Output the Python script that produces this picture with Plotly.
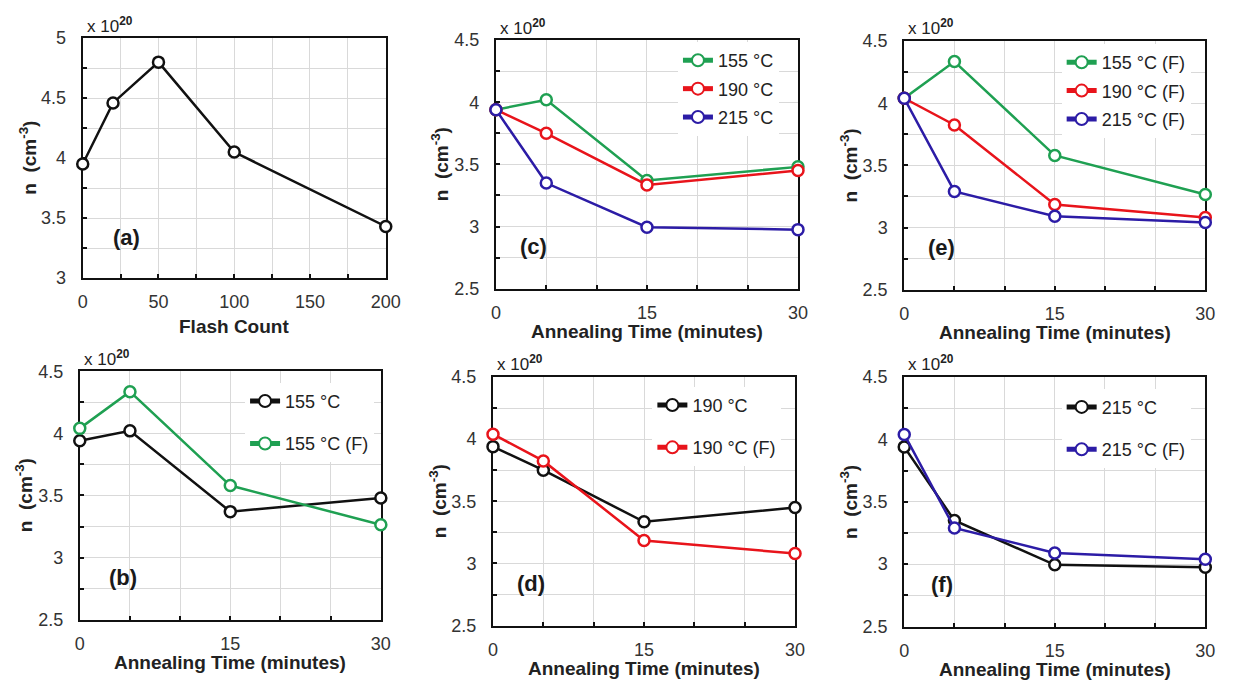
import plotly.graph_objects as go

# ---------------- data ----------------
flash_count = [0, 20, 50, 100, 200]
n_flash = [3.95, 4.46, 4.80, 4.05, 3.43]

anneal_time = [0, 5, 15, 30]
n_155 = [3.94, 4.02, 3.37, 3.48]
n_190 = [3.94, 3.75, 3.335, 3.45]
n_215 = [3.94, 3.35, 2.995, 2.975]
n_155F = [4.04, 4.335, 3.58, 3.265]
n_190F = [4.04, 3.825, 3.185, 3.08]
n_215F = [4.04, 3.29, 3.09, 3.04]

label_155 = "155 °C"
label_190 = "190 °C"
label_215 = "215 °C"
label_155F = "155 °C (F)"
label_190F = "190 °C (F)"
label_215F = "215 °C (F)"

flash_ticks = [0, 50, 100, 150, 200]
anneal_ticks = [0, 15, 30]
panel_labels = ["(a)", "(b)", "(c)", "(d)", "(e)", "(f)"]
y_title = "n  (cm<sup>-3</sup>)"
x_title_flash = "Flash Count"
x_title_anneal = "Annealing Time (minutes)"
exp_text = "x 10<sup><b>20</b></sup>"

# ---------------- style ----------------
W, H = 1239, 689
FONT = "Arial, Liberation Sans, sans-serif"
GREEN = "#1FA052"
RED = "#E8141B"
BLUE = "#2C1CA6"
BLACK = "#111111"
GRID = "#D9D9D9"

fig = go.Figure()

# panel plot areas in pixels: left, right, top, bottom
panels = {
    "a": (79, 387, 29, 276),
    "c": (499, 806, 31, 287),
    "e": (914, 1220, 32, 288),
    "b": (76, 382, 372, 628),
    "d": (496, 803, 378, 634),
    "f": (914, 1220, 378, 635),
}
order = ["a", "b", "c", "d", "e", "f"]


def px_x(v):
    return v / W


def px_y(v):
    return 1 - v / H


def add(x, y, name, color, idx, legend):
    fig.add_trace(go.Scatter(
        x=x, y=y, name=name, mode="lines+markers",
        line=dict(color=color, width=2.5),
        marker=dict(symbol="circle", size=11, color="white",
                    line=dict(color=color, width=2.5)),
        xaxis="x" + ("" if idx == 1 else str(idx)),
        yaxis="y" + ("" if idx == 1 else str(idx)),
        legend=legend, legendgroup=legend + name,
        showlegend=True,
        cliponaxis=False,
    ))


# (a)
fig.add_trace(go.Scatter(
    x=flash_count, y=n_flash, mode="lines+markers", showlegend=False,
    line=dict(color=BLACK, width=2.5),
    marker=dict(symbol="circle", size=11, color="white", line=dict(color=BLACK, width=2.5)),
    xaxis="x", yaxis="y", cliponaxis=False))

# (b) idx 2
add(anneal_time, n_155, label_155, BLACK, 2, "legend")
add(anneal_time, n_155F, label_155F, GREEN, 2, "legend")
# (c) idx 3
add(anneal_time, n_155, label_155, GREEN, 3, "legend2")
add(anneal_time, n_190, label_190, RED, 3, "legend2")
add(anneal_time, n_215, label_215, BLUE, 3, "legend2")
# (d) idx 4
add(anneal_time, n_190, label_190, BLACK, 4, "legend3")
add(anneal_time, n_190F, label_190F, RED, 4, "legend3")
# (e) idx 5
add(anneal_time, n_155F, label_155F, GREEN, 5, "legend4")
add(anneal_time, n_190F, label_190F, RED, 5, "legend4")
add(anneal_time, n_215F, label_215F, BLUE, 5, "legend4")
# (f) idx 6
add(anneal_time, n_215, label_215, BLACK, 6, "legend5")
add(anneal_time, n_215F, label_215F, BLUE, 6, "legend5")

layout = dict(
    width=W, height=H, margin=dict(l=0, r=0, t=0, b=0),
    paper_bgcolor="white", plot_bgcolor="white",
    font=dict(family=FONT, size=18, color="#333333"),
)

annotations = []
for i, key in enumerate(order, start=1):
    l, r, t, b = panels[key]
    sfx = "" if i == 1 else str(i)
    is_flash = key == "a"
    common = dict(
        showline=True, linecolor=BLACK, linewidth=2, mirror=True,
        ticks="inside", ticklen=4, tickwidth=1.5, tickcolor=BLACK,
        showgrid=True, gridcolor=GRID, gridwidth=1, zeroline=False,
        layer="below traces", tickfont=dict(size=18, color="#333333"),
    )
    xa = dict(common, domain=[px_x(l), px_x(r)], anchor="y" + sfx,
              ticklabelstandoff=6 if is_flash else 7)
    if is_flash:
        xa.update(range=[0, 200], tickvals=flash_ticks,
                  minor=dict(dtick=25, ticks="inside", ticklen=4, tickcolor=BLACK,
                             showgrid=True, gridcolor=GRID))
    else:
        xa.update(range=[0, 30], tickvals=anneal_ticks,
                  minor=dict(dtick=5, ticks="inside", ticklen=4, tickcolor=BLACK,
                             showgrid=True, gridcolor=GRID))
    ya = dict(common, domain=[px_y(b), px_y(t)], anchor="x" + sfx,
              dtick=0.5, tick0=0, ticklabelstandoff=11,
              minor=dict(dtick=0.25, ticks="inside", ticklen=4, tickcolor=BLACK,
                         showgrid=True, gridcolor=GRID))
    ya["range"] = [3, 5] if is_flash else [2.5, 4.5]
    layout["xaxis" + sfx] = xa
    layout["yaxis" + sfx] = ya

    # exponent label
    annotations.append(dict(
        text=exp_text, x=px_x(l + 2), y=px_y(t - 14), xref="paper", yref="paper",
        xanchor="left", yanchor="middle", showarrow=False,
        font=dict(size=17, color="#222222")))
    # panel label
    annotations.append(dict(
        text="<b>" + panel_labels[i - 1] + "</b>", xref="x" + sfx + " domain",
        yref="y" + sfx + " domain", x=0.145 if key in ("a", "b") else 0.125,
        y=0.17, xanchor="center", yanchor="middle", showarrow=False,
        font=dict(size=22, color="#1a1a1a")))
    # y title
    annotations.append(dict(
        text="<b>" + y_title + "</b>", textangle=-90, xref="paper", yref="paper",
        x=px_x(l - 56), y=px_y((t + b) / 2),
        xanchor="center", yanchor="middle", showarrow=False,
        font=dict(size=19, color="#222222")))
    # x title
    annotations.append(dict(
        text="<b>" + (x_title_flash if is_flash else x_title_anneal) + "</b>",
        xref="paper", yref="paper", x=px_x((l + r) / 2),
        y=px_y(b + (50 if is_flash else 44)), xanchor="center", yanchor="middle",
        showarrow=False, font=dict(size=19, color="#222222")))

layout["annotations"] = annotations

# legends: (line start x px, first item center y px, gap)
legend_pos = {
    "legend": (243, 402, 16),
    "legend2": (683, 51, 2),
    "legend3": (657, 406, 16),
    "legend4": (1073, 53, 2),
    "legend5": (1073, 408, 16),
}
for name, (lx, ly, gap) in legend_pos.items():
    layout[name] = dict(
        x=px_x(lx + 1), y=px_y(ly - 18), xanchor="left", yanchor="top",
        bgcolor="white", borderwidth=0, tracegroupgap=gap,
        font=dict(size=18, color="#222222"), itemsizing="constant",
    )

fig.update_layout(**layout)
fig.write_html("out.html")
